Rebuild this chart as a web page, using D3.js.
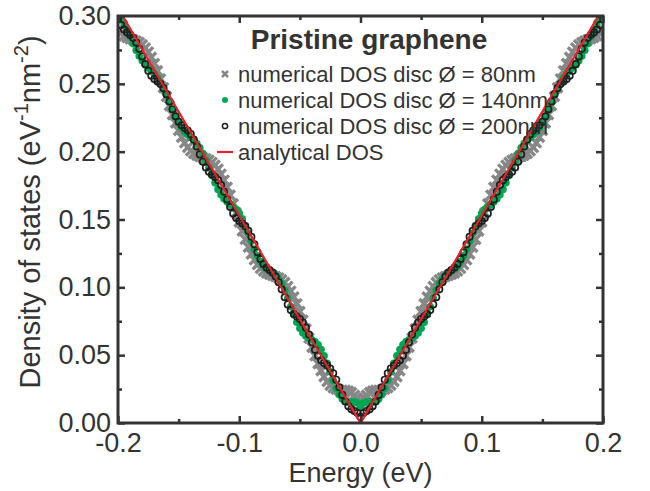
<!DOCTYPE html>
<html><head><meta charset="utf-8">
<script src="https://cdn.jsdelivr.net/npm/d3@7"></script>
<style>body{margin:0;background:#fff}svg{display:block}</style>
</head><body><svg id="c" width="650" height="491"></svg>
<script>
const energy = [-0.2,-0.1975,-0.195,-0.1925,-0.19,-0.1875,-0.185,-0.1825,-0.18,-0.1775,
-0.175,-0.1725,-0.17,-0.1675,-0.165,-0.1625,-0.16,-0.1575,-0.155,-0.1525,
-0.15,-0.1475,-0.145,-0.1425,-0.14,-0.1375,-0.135,-0.1325,-0.13,-0.1275,
-0.125,-0.1225,-0.12,-0.1175,-0.115,-0.1125,-0.11,-0.1075,-0.105,-0.1025,
-0.1,-0.0975,-0.095,-0.0925,-0.09,-0.0875,-0.085,-0.0825,-0.08,-0.0775,
-0.075,-0.0725,-0.07,-0.0675,-0.065,-0.0625,-0.06,-0.0575,-0.055,-0.0525,
-0.05,-0.0475,-0.045,-0.0425,-0.04,-0.0375,-0.035,-0.0325,-0.03,-0.0275,
-0.025,-0.0225,-0.02,-0.0175,-0.015,-0.0125,-0.01,-0.0075,-0.005,-0.0025,
0,
0.0025,0.005,0.0075,0.01,0.0125,0.015,0.0175,0.02,0.0225,0.025,
0.0275,0.03,0.0325,0.035,0.0375,0.04,0.0425,0.045,0.0475,0.05,
0.0525,0.055,0.0575,0.06,0.0625,0.065,0.0675,0.07,0.0725,0.075,
0.0775,0.08,0.0825,0.085,0.0875,0.09,0.0925,0.095,0.0975,0.1,
0.1025,0.105,0.1075,0.11,0.1125,0.115,0.1175,0.12,0.1225,0.125,
0.1275,0.13,0.1325,0.135,0.1375,0.14,0.1425,0.145,0.1475,0.15,
0.1525,0.155,0.1575,0.16,0.1625,0.165,0.1675,0.17,0.1725,0.175,
0.1775,0.18,0.1825,0.185,0.1875,0.19,0.1925,0.195,0.1975,0.2];

const dos80nm = [0.2896,0.2872,0.2854,0.2842,0.2832,0.2825,0.2816,0.2804,0.2788,0.2765,
0.2734,0.2696,0.2650,0.2596,0.2536,0.2472,0.2406,0.2339,0.2273,0.2212,
0.2156,0.2107,0.2065,0.2031,0.2006,0.1987,0.1974,0.1964,0.1956,0.1948,
0.1937,0.1921,0.1900,0.1871,0.1834,0.1790,0.1737,0.1679,0.1616,0.1549,
0.1482,0.1416,0.1354,0.1296,0.1246,0.1203,0.1168,0.1140,0.1120,0.1106,
0.1096,0.1088,0.1080,0.1069,0.1055,0.1035,0.1007,0.0972,0.0929,0.0879,
0.0821,0.0758,0.0693,0.0626,0.0559,0.0496,0.0437,0.0385,0.0341,0.0306,
0.0279,0.0260,0.0248,0.0243,0.0241,0.0241,0.0235,0.0225,0.0205,0.0185,
0.0170,
0.0185,0.0205,0.0225,0.0235,0.0241,0.0241,0.0243,0.0248,0.0260,0.0279,
0.0306,0.0341,0.0385,0.0437,0.0496,0.0559,0.0626,0.0693,0.0758,0.0821,
0.0879,0.0929,0.0972,0.1007,0.1035,0.1055,0.1069,0.1080,0.1088,0.1096,
0.1106,0.1120,0.1140,0.1168,0.1203,0.1246,0.1296,0.1354,0.1416,0.1482,
0.1549,0.1616,0.1679,0.1737,0.1790,0.1834,0.1871,0.1900,0.1921,0.1937,
0.1948,0.1956,0.1964,0.1974,0.1987,0.2006,0.2031,0.2065,0.2107,0.2156,
0.2212,0.2273,0.2339,0.2406,0.2472,0.2536,0.2596,0.2650,0.2696,0.2734,
0.2765,0.2788,0.2804,0.2816,0.2825,0.2832,0.2842,0.2854,0.2872,0.2896];

const dos140nm = [0.3029,0.2992,0.2949,0.2900,0.2848,0.2796,0.2748,0.2705,0.2670,0.2641,
0.2617,0.2596,0.2573,0.2545,0.2510,0.2467,0.2418,0.2364,0.2310,0.2258,
0.2213,0.2176,0.2147,0.2125,0.2105,0.2085,0.2060,0.2028,0.1986,0.1937,
0.1882,0.1825,0.1770,0.1722,0.1683,0.1653,0.1631,0.1613,0.1596,0.1574,
0.1545,0.1505,0.1456,0.1400,0.1341,0.1283,0.1232,0.1190,0.1158,0.1136,
0.1120,0.1106,0.1087,0.1061,0.1024,0.0976,0.0919,0.0858,0.0798,0.0743,
0.0698,0.0664,0.0641,0.0626,0.0614,0.0599,0.0576,0.0542,0.0496,0.0440,
0.0377,0.0313,0.0256,0.0209,0.0176,0.0158,0.0153,0.0155,0.0156,0.0147,
0.0120,
0.0147,0.0156,0.0155,0.0153,0.0158,0.0176,0.0209,0.0256,0.0313,0.0377,
0.0440,0.0496,0.0542,0.0576,0.0599,0.0614,0.0626,0.0641,0.0664,0.0698,
0.0743,0.0798,0.0858,0.0919,0.0976,0.1024,0.1061,0.1087,0.1106,0.1120,
0.1136,0.1158,0.1190,0.1232,0.1283,0.1341,0.1400,0.1456,0.1505,0.1545,
0.1574,0.1596,0.1613,0.1631,0.1653,0.1683,0.1722,0.1770,0.1825,0.1882,
0.1937,0.1986,0.2028,0.2060,0.2085,0.2105,0.2125,0.2147,0.2176,0.2213,
0.2258,0.2310,0.2364,0.2418,0.2467,0.2510,0.2545,0.2573,0.2596,0.2617,
0.2641,0.2670,0.2705,0.2748,0.2796,0.2848,0.2900,0.2949,0.2992,0.3029];

const dos200nm = [0.2978,0.2933,0.2900,0.2879,0.2861,0.2839,0.2805,0.2758,0.2702,0.2645,
0.2596,0.2560,0.2536,0.2518,0.2498,0.2468,0.2424,0.2370,0.2313,0.2261,
0.2221,0.2194,0.2175,0.2156,0.2129,0.2089,0.2038,0.1980,0.1926,0.1883,
0.1852,0.1832,0.1814,0.1790,0.1754,0.1705,0.1648,0.1592,0.1545,0.1511,
0.1489,0.1471,0.1450,0.1417,0.1372,0.1317,0.1259,0.1209,0.1172,0.1146,
0.1128,0.1109,0.1080,0.1038,0.0985,0.0927,0.0874,0.0833,0.0804,0.0785,
0.0767,0.0741,0.0703,0.0652,0.0595,0.0540,0.0495,0.0463,0.0442,0.0424,
0.0402,0.0367,0.0319,0.0263,0.0207,0.0158,0.0124,0.0102,0.0089,0.0074,
0.0045,
0.0074,0.0089,0.0102,0.0124,0.0158,0.0207,0.0263,0.0319,0.0367,0.0402,
0.0424,0.0442,0.0463,0.0495,0.0540,0.0595,0.0652,0.0703,0.0741,0.0767,
0.0785,0.0804,0.0833,0.0874,0.0927,0.0985,0.1038,0.1080,0.1109,0.1128,
0.1146,0.1172,0.1209,0.1259,0.1317,0.1372,0.1417,0.1450,0.1471,0.1489,
0.1511,0.1545,0.1592,0.1648,0.1705,0.1754,0.1790,0.1814,0.1832,0.1852,
0.1883,0.1926,0.1980,0.2038,0.2089,0.2129,0.2156,0.2175,0.2194,0.2221,
0.2261,0.2313,0.2370,0.2424,0.2468,0.2498,0.2518,0.2536,0.2560,0.2596,
0.2645,0.2702,0.2758,0.2805,0.2839,0.2861,0.2879,0.2900,0.2933,0.2978];

const analyticalE = [-0.2, 0, 0.2];
const analyticalDOS = [0.306, 0, 0.306];

const xMajorTicks = [-0.2, -0.1, 0, 0.1, 0.2];
const xMinorTicks = [-0.15, -0.05, 0.05, 0.15];
const yMajorTicks = [0, 0.05, 0.10, 0.15, 0.20, 0.25, 0.30];
const yMinorTicks = [0.025, 0.075, 0.125, 0.175, 0.225, 0.275];

const titleText = "Pristine graphene";
const legendLabels = ["numerical DOS disc \u00D8 = 80nm", "numerical DOS disc \u00D8 = 140nm", "numerical DOS disc \u00D8 = 200nm", "analytical DOS"];
const xTitle = "Energy (eV)";

const FONT = "'Liberation Sans', Arial, Helvetica, sans-serif";
const INK = "#333333";
const GRAY = "#878787", GREEN = "#00a651", BLACK = "#1e1e1e", RED = "#e8202a";

const svg = d3.select('#c');
const L = 118, R = 603, T = 16, B = 423;
const x = d3.scaleLinear().domain([-0.2, 0.2]).range([L, R]);
const y = d3.scaleLinear().domain([0, 0.3]).range([B, T]);

svg.append('defs').append('clipPath').attr('id', 'clip')
  .append('rect').attr('x', L).attr('y', T).attr('width', R - L).attr('height', B - T);

const plot = svg.append('g').attr('clip-path', 'url(#clip)');

// 80 nm : gray crosses
plot.append('g').selectAll('path').data(energy).join('path')
  .attr('transform', (d, i) => `translate(${x(d)},${y(dos80nm[i])})`)
  .attr('d', 'M-4.8,-4.8L4.8,4.8M-4.8,4.8L4.8,-4.8')
  .attr('stroke', GRAY).attr('stroke-width', 3.4).attr('fill', 'none');

// 140 nm : green dots
plot.append('g').selectAll('circle').data(energy).join('circle')
  .attr('cx', d => x(d)).attr('cy', (d, i) => y(dos140nm[i]))
  .attr('r', 3.8).attr('fill', GREEN);

// 200 nm : black open circles
plot.append('g').selectAll('circle').data(energy).join('circle')
  .attr('cx', d => x(d)).attr('cy', (d, i) => y(dos200nm[i]))
  .attr('r', 3.2).attr('fill', 'none').attr('stroke', BLACK).attr('stroke-width', 1.7);

// analytical red line
plot.append('path')
  .attr('d', d3.line().x(d => x(d)).y((d, i) => y(analyticalDOS[i]))(analyticalE))
  .attr('fill', 'none').attr('stroke', RED).attr('stroke-width', 2.2);

// axes
function styleAxis(g) {
  g.select('.domain').remove();
  g.selectAll('.tick line').attr('stroke', INK).attr('stroke-width', 2.5);
  g.selectAll('.tick text').attr('fill', INK).style('font-family', FONT).style('font-size', '27px');
}
const fmtX = d => d.toFixed(1);
const fmtY = d => d.toFixed(2);

svg.append('g').attr('transform', `translate(0,${B})`)
  .call(d3.axisBottom(x).tickValues(xMajorTicks).tickSize(-7).tickPadding(10).tickFormat(fmtX)).call(styleAxis);
svg.append('g').attr('transform', `translate(0,${B})`)
  .call(d3.axisBottom(x).tickValues(xMinorTicks).tickSize(-4).tickFormat('')).call(styleAxis);
svg.append('g').attr('transform', `translate(0,${T})`)
  .call(d3.axisTop(x).tickValues(xMajorTicks).tickSize(-7).tickFormat('')).call(styleAxis);
svg.append('g').attr('transform', `translate(0,${T})`)
  .call(d3.axisTop(x).tickValues(xMinorTicks).tickSize(-4).tickFormat('')).call(styleAxis);

svg.append('g').attr('transform', `translate(${L},0)`)
  .call(d3.axisLeft(y).tickValues(yMajorTicks).tickSize(-7).tickPadding(7).tickFormat(fmtY)).call(styleAxis);
svg.append('g').attr('transform', `translate(${L},0)`)
  .call(d3.axisLeft(y).tickValues(yMinorTicks).tickSize(-4).tickFormat('')).call(styleAxis);
svg.append('g').attr('transform', `translate(${R},0)`)
  .call(d3.axisRight(y).tickValues(yMajorTicks).tickSize(-7).tickFormat('')).call(styleAxis);
svg.append('g').attr('transform', `translate(${R},0)`)
  .call(d3.axisRight(y).tickValues(yMinorTicks).tickSize(-4).tickFormat('')).call(styleAxis);

// frame
svg.append('rect').attr('x', L).attr('y', T).attr('width', R - L).attr('height', B - T)
  .attr('fill', 'none').attr('stroke', INK).attr('stroke-width', 3);

// axis titles
svg.append('text').attr('x', (L + R) / 2).attr('y', 482).attr('text-anchor', 'middle')
  .style('font-family', FONT).style('font-size', '27px').attr('fill', INK).text(xTitle);

const yt = svg.append('text').attr('transform', 'translate(40,212) rotate(-90)')
  .attr('text-anchor', 'middle').style('font-family', FONT).style('font-size', '29px').attr('fill', INK);
yt.append('tspan').text('Density of states (eV');
yt.append('tspan').attr('dy', -12).style('font-size', '20px').text('-1');
yt.append('tspan').attr('dy', 12).text('nm');
yt.append('tspan').attr('dy', -12).style('font-size', '20px').text('-2');
yt.append('tspan').attr('dy', 12).text(')');

// legend
svg.append('text').attr('x', 369).attr('y', 49).attr('text-anchor', 'middle')
  .style('font-family', FONT).style('font-size', '28px').style('font-weight', 'bold')
  .attr('fill', INK).text(titleText);

const rowsY = [74, 100, 126, 152];
const lg = svg.append('g');
lg.selectAll('text').data(legendLabels).join('text')
  .attr('x', 238).attr('y', (d, i) => rowsY[i] + 8)
  .style('font-family', FONT).style('font-size', '22px').attr('fill', INK).text(d => d);
lg.append('path').attr('transform', `translate(225,${rowsY[0]})`).attr('d', 'M-3,-3L3,3M-3,3L3,-3')
  .attr('stroke', GRAY).attr('stroke-width', 2.5);
lg.append('circle').attr('cx', 225).attr('cy', rowsY[1]).attr('r', 3).attr('fill', GREEN);
lg.append('circle').attr('cx', 225).attr('cy', rowsY[2]).attr('r', 2.6).attr('fill', 'none')
  .attr('stroke', BLACK).attr('stroke-width', 1.5);
lg.append('line').attr('x1', 217).attr('x2', 233).attr('y1', rowsY[3]).attr('y2', rowsY[3])
  .attr('stroke', RED).attr('stroke-width', 2.2);
</script></body></html>
